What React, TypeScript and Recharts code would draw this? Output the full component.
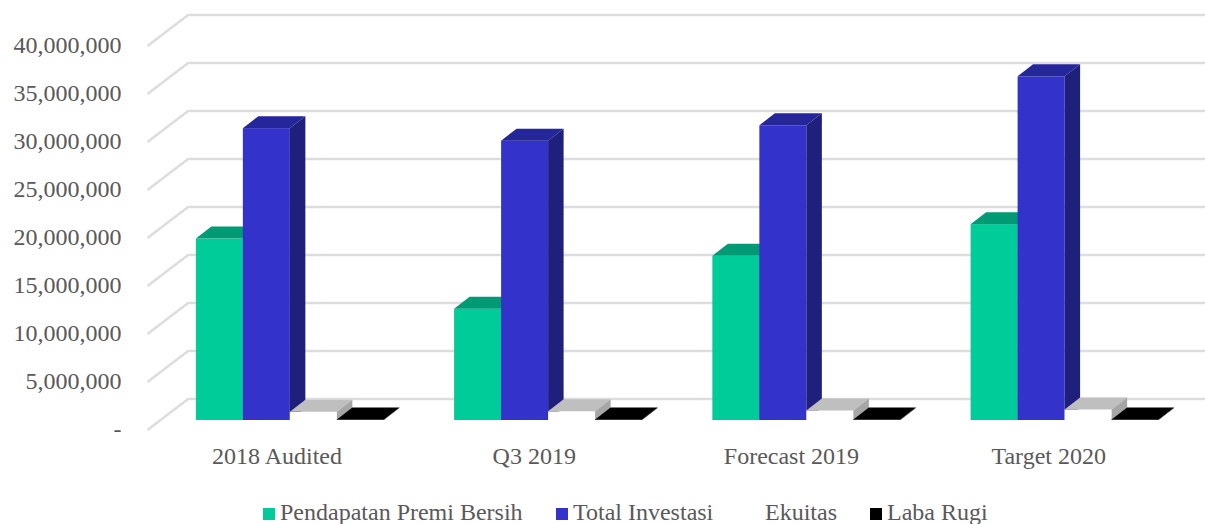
import React from "react";
import { BarChart, Bar, XAxis, YAxis, CartesianGrid, Legend } from "recharts";

const categories = ["2018 Audited", "Q3 2019", "Forecast 2019", "Target 2020"];
const premiBersih = [18900000, 11600000, 17100000, 20400000];
const totalInvestasi = [30400000, 29100000, 30700000, 35800000];
const ekuitas = [850000, 900000, 1000000, 1100000];
const labaRugi = [60000, 60000, 60000, 60000];
const yTicks = [0, 5000000, 10000000, 15000000, 20000000, 25000000, 30000000, 35000000, 40000000];

const table = categories.map((name, i) => ({
  name,
  premi: premiBersih[i],
  investasi: totalInvestasi[i],
  ekuitas: ekuitas[i],
  laba: labaRugi[i],
}));

const DX = 15.5;
const DY = 12;
const FONT = "'Liberation Serif', 'Times New Roman', serif";
const TEXT = "#595959";

const box = (top: string, side: string) => (p: any) => {
  const { x, y, width, height, fill } = p;
  const r = x + width;
  const b = y + height;
  return (
    <g>
      <rect x={x} y={y} width={width} height={height} fill={fill} />
      <polygon points={`${x},${y} ${r},${y} ${r + DX},${y - DY} ${x + DX},${y - DY}`} fill={top} />
      <polygon points={`${r},${y} ${r + DX},${y - DY} ${r + DX},${b - DY} ${r},${b}`} fill={side} />
    </g>
  );
};

const gridLine = (p: any) => {
  const y = p.y1;
  return (
    <g key={`g-${y}`}>
      <path d={`M147.5 ${y + 10} L188 ${y - 21} L1215 ${y - 21}`} fill="none" stroke="#DDDDDD" strokeWidth={2.5} />
    </g>
  );
};

const YTick = (p: any) => {
  const v = p.payload.value;
  return (
    <text x={121.5} y={p.y + 17} textAnchor="end" fontFamily={FONT} fontSize={24} fill={TEXT}>
      {v === 0 ? "-" : v.toLocaleString("en-US")}
    </text>
  );
};

const XTick = (p: any) => (
  <text x={p.x - 13 - p.index} y={p.y + 36} textAnchor="middle" fontFamily={FONT} fontSize={24} fill={TEXT}>
    {p.payload.value}
  </text>
);

const legendLefts = [263, 556, 748, 870];

const LegendBody = (p: any) => (
  <div style={{ position: "relative", height: 24, width: 1205 }}>
    {p.payload.map((e: any, i: number) => (
      <div key={e.value} style={{ position: "absolute", left: legendLefts[i], top: 0, whiteSpace: "nowrap", fontFamily: FONT, fontSize: 24, lineHeight: "24px", color: TEXT }}>
        <span style={{ display: "inline-block", width: 12, height: 12, background: e.color, marginRight: 5 }} />
        {e.value}
      </div>
    ))}
  </div>
);

export default function App() {
  return (
    <div style={{ position: "absolute", left: 0, top: 0, width: 1205, height: 524, overflow: "hidden", background: "#fff" }}>
      <BarChart
        width={1205}
        height={524}
        data={table}
        barGap={0}
        barSize={47}
        margin={{ top: 36, right: 11.15, bottom: 34, left: 0.85 }}
      >
        <CartesianGrid horizontal={gridLine} vertical={false} stroke="#D9D9D9" />
        <XAxis dataKey="name" height={40} axisLine={false} tickLine={false} tick={XTick} interval={0} />
        <YAxis width={160} domain={[0, 40000000]} ticks={yTicks} axisLine={false} tickLine={false} tick={YTick} interval={0} />
        <Bar dataKey="premi" name="Pendapatan Premi Bersih" fill="#00CC99" shape={box("#009B74", "#007F5F")} isAnimationActive={false} />
        <Bar dataKey="investasi" name="Total Investasi" fill="#3333CC" shape={box("#26269B", "#1F1F7C")} isAnimationActive={false} />
        <Bar dataKey="ekuitas" name="Ekuitas" fill="#FFFFFF" shape={box("#BFBFBF", "#A6A6A6")} isAnimationActive={false} />
        <Bar dataKey="laba" name="Laba Rugi" fill="#000000" shape={box("#000000", "#000000")} isAnimationActive={false} />
        <Legend height={30} itemSorter={null} content={LegendBody} wrapperStyle={{ left: 0, top: 500, bottom: "auto", width: 1205 }} />
      </BarChart>
    </div>
  );
}
